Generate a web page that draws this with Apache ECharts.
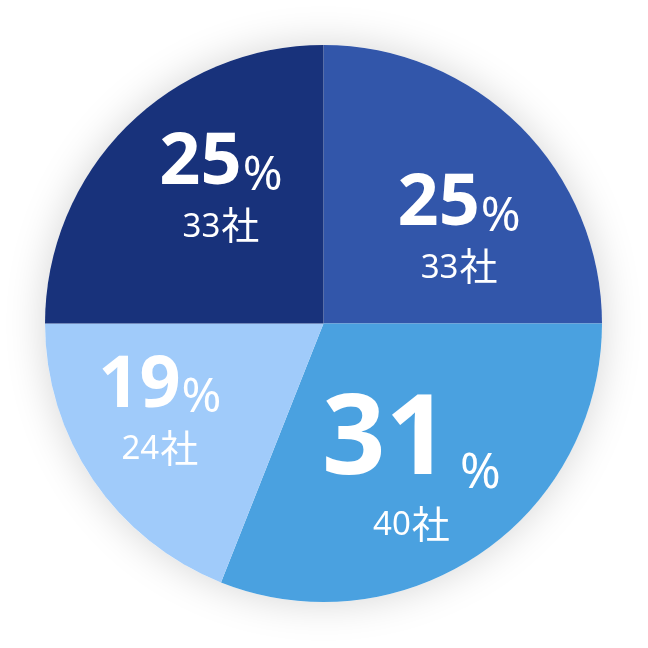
<!DOCTYPE html>
<html><head><meta charset="utf-8">
<script src="https://cdn.jsdelivr.net/npm/echarts@6/dist/echarts.min.js"></script>
<style>html,body{margin:0;padding:0;background:#fff}#c{width:648px;height:648px}</style>
</head><body><div id="c"></div>
<script>
const counts = [33, 40, 24, 33];
const percents = [25, 31, 19, 25];
const unit = '社';
const colors = ['#3256AA', '#4AA1E0', '#A0CBFA', '#18327B'];
const bigStyle = ['big', 'huge', 'big', 'big'];
const labelDx = [35, 8, -46, -2];
const labelDy = [2, 24, 3, -39];

const chart = echarts.init(document.getElementById('c'), null, {renderer: 'canvas'});
const font = '"Noto Sans", "Noto Sans CJK JP", sans-serif';
const cjk = '"Noto Sans CJK JP", "Noto Sans", sans-serif';
const C = [323.5, 323.5], R = 278.5;
chart.setOption({
  animation: false,
  series: [{
    type: 'pie',
    center: C,
    radius: [0, R],
    silent: true,
    z: 1,
    label: {show: false},
    labelLine: {show: false},
    itemStyle: {color: '#ffffff', shadowBlur: 40, shadowColor: 'rgba(0,0,0,0.17)'},
    data: [{value: 1}]
  }, {
    type: 'pie',
    center: C,
    radius: [0, R],
    startAngle: 90,
    clockwise: true,
    silent: true,
    z: 2,
    label: {
      position: 'inside',
      color: '#fff',
      formatter: p => {
        const i = p.dataIndex, b = bigStyle[i];
        return `{${b}|${percents[i]}}{${b === 'huge' ? 'pctL' : 'pct'}|%}\n{cnt|${counts[i]}}{unit|${unit}}`;
      },
      rich: {
        big: {fontSize: 72, fontWeight: 'bold', fontFamily: font, color: '#fff', lineHeight: 76, verticalAlign: 'bottom'},
        huge: {fontSize: 111, fontWeight: 'bold', fontFamily: font, color: '#fff', lineHeight: 110, verticalAlign: 'bottom'},
        pct: {fontSize: 48, fontFamily: font, color: '#fff', lineHeight: 76, verticalAlign: 'bottom', padding: [0, 0, 0, 1]},
        pctL: {fontSize: 49, fontFamily: font, color: '#fff', lineHeight: 110, verticalAlign: 'bottom', padding: [0, 0, 0, 11]},
        cnt: {fontSize: 33, fontFamily: font, color: '#fff', lineHeight: 44, verticalAlign: 'bottom'},
        unit: {fontSize: 38, fontFamily: cjk, color: '#fff', lineHeight: 44, verticalAlign: 'bottom', padding: [0, 0, 0, 1]}
      }
    },
    labelLine: {show: false},
    labelLayout: p => ({dx: labelDx[p.dataIndex], dy: labelDy[p.dataIndex]}),
    data: percents.map((v, i) => ({value: v, itemStyle: {color: colors[i]}}))
  }]
});
</script></body></html>
